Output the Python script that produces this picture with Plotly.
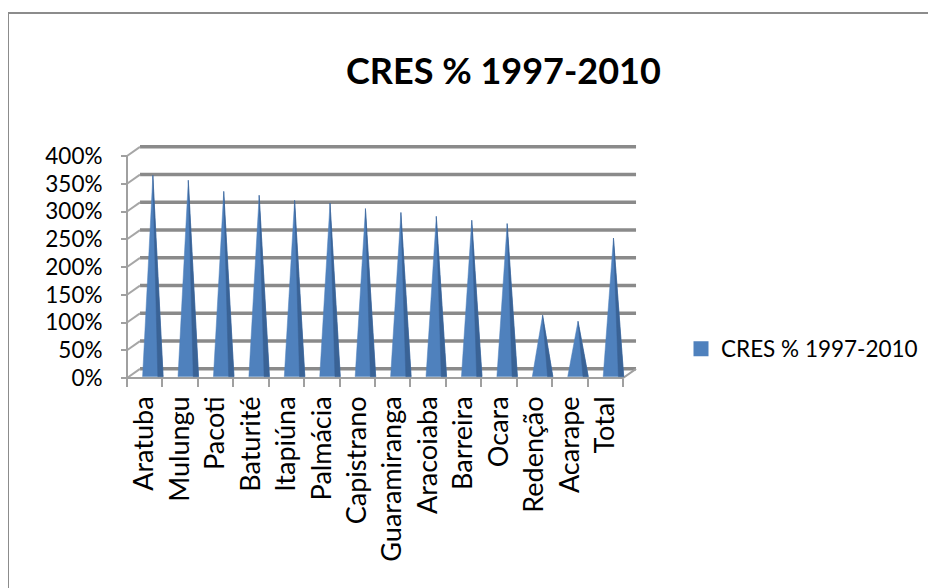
import plotly.graph_objects as go

categories = ["Aratuba", "Mulungu", "Pacoti", "Baturité", "Itapiúna", "Palmácia",
              "Capistrano", "Guaramiranga", "Aracoiaba", "Barreira", "Ocara",
              "Redenção", "Acarape", "Total"]
values = [358, 349, 329, 322, 313, 308, 298, 291, 284, 277, 271, 106, 95, 245]
series_name = "CRES % 1997-2010"
title_text = "CRES % 1997-2010"
y_ticks = [0, 50, 100, 150, 200, 250, 300, 350, 400]
y_ticktext = ["0%", "50%", "100%", "150%", "200%", "250%", "300%", "350%", "400%"]

# page has an 8px body margin, so the figure is drawn 8px smaller and shifted
OFF = 8
W, H = 936 - OFF, 588 - OFF
n = len(categories)
# pseudo-3D depth offsets (in axis units)
DX, DY = 0.367, 16.5          # back wall shift
CDX, CDY = 0.23, 7.2          # cone (mid depth) shift
HALF = 0.29                   # cone half width
DARK = 0.15                   # dark side width

BLUE = "#4F81BD"
BLUE_D = "#3A6396"
GRID = "#8A8A8A"
FONT = "Lato"

fig = go.Figure()

# back wall gridlines
gx, gy = [], []
for v in y_ticks:
    gx += [-0.5 + DX, n - 0.5 + DX, None]
    gy += [v + DY, v + DY, None]
fig.add_trace(go.Scatter(x=gx, y=gy, mode="lines", line=dict(color=GRID, width=3.5),
                         hoverinfo="skip", showlegend=False))
# side wall lines
sx, sy = [], []
for v in y_ticks:
    sx += [-0.5, -0.5 + DX, None]
    sy += [v, v + DY, None]
fig.add_trace(go.Scatter(x=sx, y=sy, mode="lines", line=dict(color="#A6A6A6", width=2),
                         hoverinfo="skip", showlegend=False))
# front axes + floor edge
fig.add_trace(go.Scatter(x=[-0.5, -0.5, None, -0.5, n - 0.5, n - 0.5 + DX],
                         y=[y_ticks[-1], 0, None, 0, 0, DY],
                         mode="lines", line=dict(color="#A0A0A0", width=2),
                         hoverinfo="skip", showlegend=False))

# cones
cx, cy, dx, dy = [], [], [], []
for i, v in enumerate(values):
    c = i + CDX
    cx += [c - HALF, c, c + HALF, c - HALF, None]
    cy += [2.5, v + CDY, 2.5, 2.5, None]
    dx += [c + HALF - DARK, c, c + HALF, c + HALF - DARK, None]
    dy += [2.5, v + CDY, 2.5, 2.5, None]
fig.add_trace(go.Scatter(x=cx, y=cy, mode="lines", fill="toself", fillcolor=BLUE,
                         line=dict(color=BLUE, width=0.5), hoverinfo="skip", showlegend=False))
fig.add_trace(go.Scatter(x=dx, y=dy, mode="lines", fill="toself", fillcolor=BLUE_D,
                         line=dict(color=BLUE_D, width=0.5), hoverinfo="skip", showlegend=False))
# legend entry
fig.add_trace(go.Scatter(x=[None], y=[None], mode="markers", name=series_name,
                         marker=dict(symbol="square", size=15, color=BLUE)))

# pixel layout (screen pixels, converted to figure pixels)
x0_px, cat_px = 127.0 - OFF, 35.43
y0_px, pct_px = 378.0 - OFF, 0.555
xr = [-0.6, 14.0]
yr = [-15, 430]
xd = [(x0_px + (xr[0] + 0.5) * cat_px) / W, (x0_px + (xr[1] + 0.5) * cat_px) / W]
yd = [(H - (y0_px - yr[0] * pct_px)) / H, (H - (y0_px - yr[1] * pct_px)) / H]

def fx(px):
    return (px - OFF) / W

def fy(py):
    return (H - (py - OFF)) / H

fig.update_layout(
    width=W, height=H, autosize=False,
    margin=dict(l=0, r=0, t=0, b=0, pad=0, autoexpand=False),
    paper_bgcolor="white", plot_bgcolor="rgba(0,0,0,0)",
    font=dict(family=FONT, color="black"),
    xaxis=dict(domain=xd, range=xr, anchor="free", position=(H - y0_px) / H,
               tickvals=[i - 0.5 for i in range(n + 1)], ticktext=[""] * (n + 1),
               ticks="outside", ticklen=8, tickcolor="#A0A0A0", tickwidth=2,
               showgrid=False, zeroline=False, showline=False, automargin=False),
    xaxis2=dict(domain=xd, range=xr, overlaying="x", anchor="free",
                position=(H - y0_px) / H,
                tickvals=list(range(n)), ticktext=categories, tickangle=-90,
                ticks="", ticklabelstandoff=12, tickfont=dict(size=27, family=FONT),
                showgrid=False, zeroline=False, showline=False, automargin=False),
    yaxis=dict(domain=yd, range=yr, anchor="free", position=x0_px / W,
               tickvals=y_ticks, ticktext=y_ticktext,
               ticks="outside", ticklen=6, tickcolor="#A0A0A0", tickwidth=2,
               ticklabelstandoff=14, tickfont=dict(size=22.5, family=FONT),
               showgrid=False, zeroline=False, showline=False, automargin=False),
    legend=dict(x=fx(681), y=fy(349), xanchor="left", yanchor="middle",
                font=dict(size=22.5, family=FONT), bgcolor="rgba(0,0,0,0)"),
    annotations=[dict(text="<b>" + title_text + "</b>", xref="paper", yref="paper",
                      x=fx(504), y=fy(70), xanchor="center", yanchor="middle",
                      showarrow=False, font=dict(size=36, family=FONT, color="black"))],
    shapes=[dict(type="rect", xref="paper", yref="paper", x0=fx(8), x1=1.03,
                 y0=-0.03, y1=fy(13), line=dict(color="#8C8C8C", width=2))],
)
# dummy trace on xaxis2 so it renders
fig.add_trace(go.Scatter(x=[None], y=[None], xaxis="x2", yaxis="y", showlegend=False,
                         hoverinfo="skip"))

fig.write_html("out.html")
